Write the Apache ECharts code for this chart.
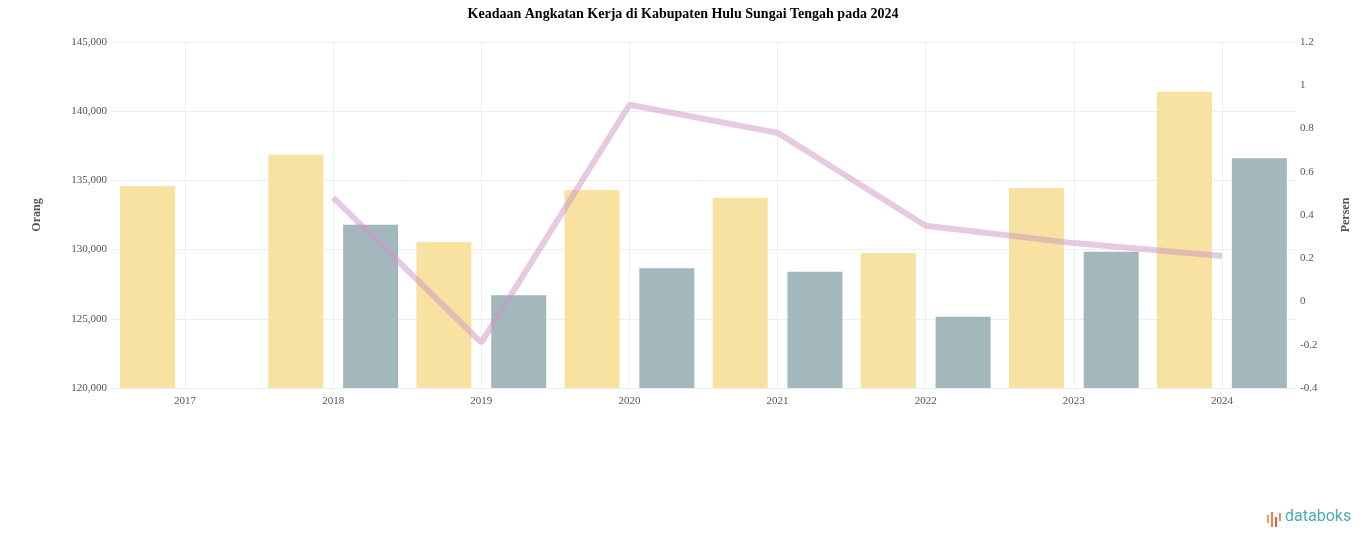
<!DOCTYPE html>
<html>
<head>
<meta charset="utf-8">
<script src="https://cdn.jsdelivr.net/npm/echarts@6/dist/echarts.min.js"></script>
<style>
html,body{margin:0;padding:0;background:#fff;}
#chart{width:1366px;height:547px;}
</style>
</head>
<body>
<div id="chart"></div>
<script>
const categories = ['2017','2018','2019','2020','2021','2022','2023','2024'];
const angkatanKerja = [134600, 136850, 130550, 134300, 133750, 129750, 134450, 141400];
const bekerja = [null, 131800, 126700, 128650, 128400, 125150, 129850, 136600];
const pertumbuhan = [null, 0.48, -0.19, 0.91, 0.78, 0.35, 0.27, 0.21];
const leftTicks = { min: 120000, max: 145000, interval: 5000 };
const rightTicks = { min: -0.4, max: 1.2, interval: 0.2 };

const chart = echarts.init(document.getElementById('chart'));
const fontFam = '"Liberation Serif", "Times New Roman", serif';
chart.setOption({
  animation: false,
  textStyle: { fontFamily: fontFam },
  title: {
    text: 'Keadaan Angkatan Kerja di Kabupaten Hulu Sungai Tengah pada 2024',
    left: 'center', top: 2,
    textStyle: { fontFamily: fontFam, fontSize: 14, fontWeight: 'bold', color: '#000' }
  },
  grid: { left: 111, right: 70, top: 42, bottom: 159 },
  xAxis: {
    type: 'category',
    data: categories,
    axisLine: { show: false },
    axisTick: { show: false },
    axisLabel: { color: '#555', fontSize: 11, margin: 8, fontFamily: fontFam },
    splitLine: { show: true, alignWithLabel: true, lineStyle: { color: '#eeeeee', width: 1 } }
  },
  yAxis: [
    {
      type: 'value', min: leftTicks.min, max: leftTicks.max, interval: leftTicks.interval,
      name: 'Orang', nameLocation: 'middle', nameGap: 68, nameRotate: 90,
      nameTextStyle: { color: '#555', fontSize: 12, fontWeight: 'bold', fontFamily: fontFam },
      axisLine: { show: false }, axisTick: { show: false },
      axisLabel: { color: '#555', fontSize: 11, margin: 4, fontFamily: fontFam,
        formatter: v => v.toLocaleString('en-US') },
      splitLine: { lineStyle: { color: '#eeeeee', width: 1 } }
    },
    {
      type: 'value', min: rightTicks.min, max: rightTicks.max, interval: rightTicks.interval,
      name: 'Persen', nameLocation: 'middle', nameGap: 44, nameRotate: 90,
      nameTextStyle: { color: '#555', fontSize: 12, fontWeight: 'bold', fontFamily: fontFam },
      axisLine: { show: false }, axisTick: { show: false },
      axisLabel: { color: '#555', fontSize: 11, margin: 4, fontFamily: fontFam },
      splitLine: { show: false }
    }
  ],
  series: [
    {
      name: 'Angkatan Kerja', type: 'bar', data: angkatanKerja,
      barWidth: 55, barGap: '36%',
      itemStyle: { color: '#f7e2a1' }
    },
    {
      name: 'Bekerja', type: 'bar', data: bekerja,
      barWidth: 55,
      itemStyle: { color: '#a2b8bd' }
    },
    {
      name: 'Pertumbuhan', type: 'line', yAxisIndex: 1, data: pertumbuhan,
      symbol: 'none', z: 5,
      lineStyle: { color: 'rgba(205,150,195,0.5)', width: 6 }
    }
  ],
  graphic: [
    { type: 'rect', shape: { x: 1267, y: 515, width: 2, height: 8 }, style: { fill: '#f0a050' } },
    { type: 'rect', shape: { x: 1271, y: 512, width: 2, height: 15 }, style: { fill: '#ef7a4a' } },
    { type: 'rect', shape: { x: 1275, y: 517, width: 2, height: 10 }, style: { fill: '#e85a4a' } },
    { type: 'rect', shape: { x: 1279, y: 513, width: 2, height: 8 }, style: { fill: '#f08a50' } },
    { type: 'text', left: 1285, top: 509,
      style: { text: 'databoks', fill: '#4aaeae', fontSize: 16, fontFamily: 'Roboto, "Open Sans", sans-serif' } }
  ]
});
</script>
</body>
</html>
